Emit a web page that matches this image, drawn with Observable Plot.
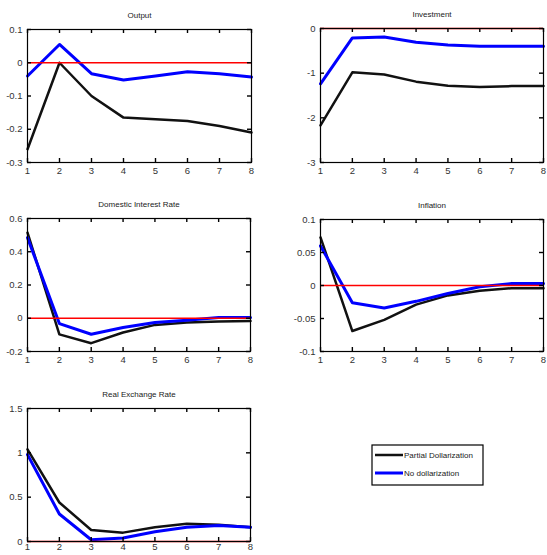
<!DOCTYPE html>
<html><head><meta charset="utf-8">
<script src="https://cdn.jsdelivr.net/npm/d3@7"></script>
<script src="https://cdn.jsdelivr.net/npm/@observablehq/plot@0.6"></script>
<style>
body{margin:0;background:#fff;}
#root{position:relative;width:547px;height:555px;overflow:hidden;font-family:"Liberation Sans",Arial,sans-serif;}
.panel{position:absolute;}
</style></head><body><div id="root"></div>
<script>
const periods = [1,2,3,4,5,6,7,8];
const seriesNames = ["Partial Dollarization","No dollarization"];

const outputPartial = [-0.26,0.0,-0.10,-0.165,-0.17,-0.175,-0.19,-0.21];
const outputNoDoll  = [-0.04,0.055,-0.033,-0.052,-0.04,-0.027,-0.033,-0.043];

const investPartial = [-2.17,-0.98,-1.03,-1.19,-1.28,-1.31,-1.29,-1.29];
const investNoDoll  = [-1.24,-0.21,-0.19,-0.31,-0.37,-0.40,-0.40,-0.40];

const ratePartial = [0.515,-0.097,-0.15,-0.086,-0.04,-0.026,-0.02,-0.016];
const rateNoDoll  = [0.485,-0.032,-0.096,-0.056,-0.026,-0.012,0.004,0.004];

const inflPartial = [0.073,-0.069,-0.052,-0.029,-0.015,-0.008,-0.004,-0.004];
const inflNoDoll  = [0.06,-0.026,-0.034,-0.024,-0.012,-0.002,0.003,0.003];

const rerPartial = [1.04,0.44,0.13,0.10,0.16,0.20,0.19,0.16];
const rerNoDoll  = [0.98,0.31,0.02,0.04,0.11,0.16,0.18,0.16];

const panels = [
  {title:"Output", a:outputPartial, b:outputNoDoll, domain:[-0.3,0.1], ticks:[-0.3,-0.2,-0.1,0,0.1],
   left:0, top:0, width:270, height:185, ml:27, mr:19, mt:29, mb:23, xpad:5},
  {title:"Investment", a:investPartial, b:investNoDoll, domain:[-3,0], ticks:[-3,-2,-1,0],
   left:293, top:0, width:254, height:185, ml:27, mr:4, mt:28, mb:23, xpad:5},
  {title:"Domestic Interest Rate", a:ratePartial, b:rateNoDoll, domain:[-0.2,0.6], ticks:[-0.2,0,0.2,0.4,0.6],
   left:0, top:185, width:270, height:185, ml:27, mr:20, mt:33, mb:19, xpad:5},
  {title:"Inflation", a:inflPartial, b:inflNoDoll, domain:[-0.1,0.1], ticks:[-0.1,-0.05,0,0.05,0.1],
   left:293, top:185, width:254, height:185, ml:27, mr:4, mt:34, mb:19, xpad:5},
  {title:"Real Exchange Rate", a:rerPartial, b:rerNoDoll, domain:[0,1.5], ticks:[0,0.5,1,1.5],
   left:0, top:370, width:270, height:185, ml:27, mr:20, mt:38, mb:14, xpad:2}
];

const root = document.getElementById("root");
for (const p of panels) {
  const dataA = periods.map((x,i)=>({x, y:p.a[i]}));
  const dataB = periods.map((x,i)=>({x, y:p.b[i]}));
  const [y0, y1] = p.domain;
  const chart = Plot.plot({
    width:p.width, height:p.height,
    marginLeft:p.ml, marginRight:p.mr, marginTop:p.mt, marginBottom:p.mb,
    style:{fontFamily:"Liberation Sans, Arial, sans-serif", fontSize:"9.5px", color:"#222", background:"transparent"},
    x:{domain:[1,8]},
    y:{domain:p.domain},
    marks:[
      Plot.line(dataA,{x:"x",y:"y",stroke:"#111",strokeWidth:2.5}),
      Plot.line(dataB,{x:"x",y:"y",stroke:"#0000ff",strokeWidth:3}),
      Plot.ruleY([0],{stroke:"#ff0000",strokeWidth:1.6}),
      // inward tick marks on all four sides (MATLAB box style)
      Plot.ruleX(periods,{x:d=>d, y1:y0, y2:y0, insetBottom:4, stroke:"#000", strokeWidth:1.4}),
      Plot.ruleX(periods,{x:d=>d, y1:y1, y2:y1, insetTop:4, stroke:"#000", strokeWidth:1.4}),
      Plot.ruleY(p.ticks,{y:d=>d, x1:1, x2:1, insetRight:-4, stroke:"#000", strokeWidth:1.4}),
      Plot.ruleY(p.ticks,{y:d=>d, x1:8, x2:8, insetLeft:-4, stroke:"#000", strokeWidth:1.4}),
      Plot.frame({stroke:"#000",strokeWidth:1.2}),
      Plot.axisX(periods,{anchor:"bottom",tickSize:0,tickPadding:p.xpad,label:null,fill:"#333"}),
      Plot.axisY(p.ticks,{anchor:"left",tickSize:0,tickPadding:5,tickFormat:d=>String(d),label:null,fill:"#333"}),
      Plot.text([p.title],{frameAnchor:"top",dy:-14,lineAnchor:"middle",fontSize:8,fill:"#222"})
    ]
  });
  chart.classList.add("panel");
  chart.style.left = p.left+"px";
  chart.style.top = p.top+"px";
  root.appendChild(chart);
}

// legend
const lg = d3.create("svg").attr("width",116).attr("height",45)
  .style("position","absolute").style("left","370px").style("top","443px");
lg.append("rect").attr("x",2).attr("y",2).attr("width",111).attr("height",40)
  .attr("fill","#fff").attr("stroke","#000").attr("stroke-width",1.2);
const legendColors = ["#111","#0000ff"];
seriesNames.forEach((name,i)=>{
  const y = 12 + i*18;
  lg.append("line").attr("x1",5).attr("x2",33).attr("y1",y).attr("y2",y)
    .attr("stroke",legendColors[i]).attr("stroke-width",i?3:2.5);
  lg.append("text").attr("x",34).attr("y",y+3).attr("font-size",8)
    .attr("font-family","Liberation Sans, Arial, sans-serif").attr("fill","#222").text(name);
});
root.appendChild(lg.node());
</script></body></html>
